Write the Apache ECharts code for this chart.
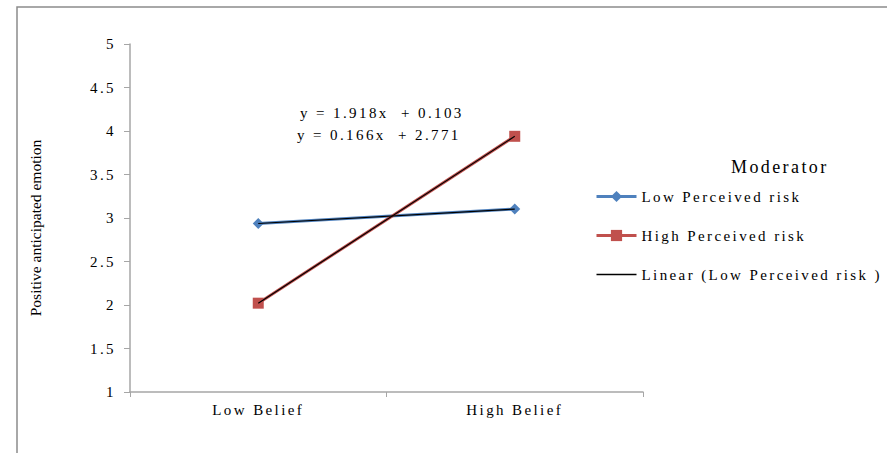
<!DOCTYPE html>
<html><head><meta charset="utf-8">
<script src="https://cdn.jsdelivr.net/npm/echarts@6/dist/echarts.min.js"></script>
<style>
html,body{margin:0;padding:0;background:#fff}
#c{width:887px;height:453px}
#c text { font-family: 'Liberation Serif', serif !important; }
#c text[style*="Times"], #c text[font-family*="Times"] { letter-spacing: 2.4px; }
</style>
</head><body><div id="c"></div>
<script>
const categories = ['Low Belief', 'High Belief'];
const lowRisk = [2.937, 3.103];
const highRisk = [2.021, 3.939];
const yTicks = [1, 1.5, 2, 2.5, 3, 3.5, 4, 4.5, 5];
const equations = ['y = 1.918x  + 0.103', 'y = 0.166x  + 2.771'];
const seriesNames = ['Low Perceived risk', 'High Perceived risk', 'Linear (Low Perceived risk )'];
const yAxisTitle = 'Positive anticipated emotion';
const spaced = "'Liberation Serif', Times, serif";
const plain = "'Liberation Serif', serif";

const chart = echarts.init(document.getElementById('c'), null, { renderer: 'svg' });
chart.setOption({
  animation: false,
  backgroundColor: '#fff',
  grid: { left: 130, right: 244, top: 44, bottom: 61 },
  title: { text: 'Moderator', left: 726, top: 153, textStyle: { fontFamily: spaced, fontSize: 18, fontWeight: 'normal', color: '#000' } },
  legend: {
    orient: 'vertical', left: 595, top: 189, padding: 0, itemGap: 24, itemWidth: 40, itemHeight: 14,
    data: [
      { name: seriesNames[0], lineStyle: { width: 3 } },
      { name: seriesNames[1], lineStyle: { width: 3 } },
      { name: seriesNames[2], itemStyle: { opacity: 0 }, lineStyle: { width: 1.5 } }
    ],
    textStyle: { fontFamily: spaced, fontSize: 15, color: '#000' }
  },
  xAxis: {
    type: 'category', data: categories, boundaryGap: true,
    axisLine: { lineStyle: { color: '#a6a6a6', width: 1.5 } },
    axisTick: { show: true, inside: false, length: 5, lineStyle: { color: '#a6a6a6' } },
    axisLabel: { fontFamily: spaced, fontSize: 15, color: '#000', margin: 10 }
  },
  yAxis: {
    type: 'value', min: 1, max: 5, interval: 0.5,
    splitLine: { show: false },
    axisLine: { show: true, lineStyle: { color: '#a6a6a6', width: 1.5 } },
    axisTick: { show: true, length: 6, lineStyle: { color: '#a6a6a6' } },
    axisLabel: { fontFamily: spaced, fontSize: 15, color: '#000', margin: 14,
      formatter: v => yTicks.includes(v) ? String(v) : '' }
  },
  graphic: [
    { type: 'rect', shape: { x: 17, y: 7, width: 880, height: 460 }, style: { fill: 'none', stroke: '#8c8c8c', lineWidth: 1.5 }, silent: true, z: -1 },
    { type: 'text', x: 300, y: 105, style: { text: equations[0], font: '15px ' + spaced, fill: '#000' } },
    { type: 'text', x: 297, y: 127, style: { text: equations[1], font: '15px ' + spaced, fill: '#000' } },
    { type: 'text', x: 35, y: 228, rotation: Math.PI / 2, style: { text: yAxisTitle, font: '15.5px ' + plain, fill: '#000', align: 'center', verticalAlign: 'middle' } }
  ],
  series: [
    { name: seriesNames[0], type: 'line', data: lowRisk, symbol: 'diamond', symbolSize: 11,
      itemStyle: { color: '#4F81BD' }, lineStyle: { color: '#4F81BD', width: 3 }, z: 2 },
    { name: seriesNames[1], type: 'line', data: highRisk, symbol: 'rect', symbolSize: 11,
      itemStyle: { color: '#C0504D' }, lineStyle: { color: '#C0504D', width: 3 }, z: 2 },
    { name: seriesNames[2], type: 'line', data: lowRisk, symbol: 'none',
      itemStyle: { color: '#000' }, lineStyle: { color: '#000', width: 1.2 }, z: 3 },
    { name: 'Linear (High Perceived risk )', type: 'line', data: highRisk, symbol: 'none',
      itemStyle: { color: '#000' }, lineStyle: { color: '#000', width: 1.2 }, z: 3 }
  ]
});
</script></body></html>
